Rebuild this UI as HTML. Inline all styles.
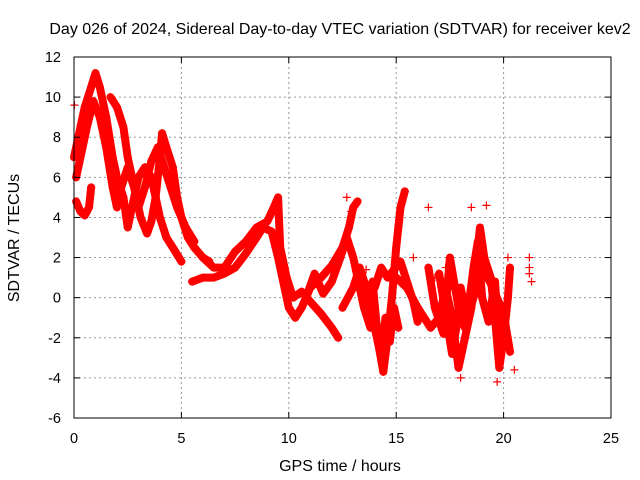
<!DOCTYPE html>
<html><head><meta charset="utf-8"><style>
body{margin:0;background:#fff}
svg{display:block;font-family:"Liberation Sans",sans-serif}
</style></head><body>
<svg id="chart" width="640" height="480">
<rect width="640" height="480" fill="#fff"/>
<text x="340" y="34" text-anchor="middle" font-size="16">Day 026 of 2024, Sidereal Day-to-day VTEC variation (SDTVAR) for receiver kev2</text>
<text x="340" y="471" text-anchor="middle" font-size="16">GPS time / hours</text>
<text transform="translate(19,238) rotate(-90)" text-anchor="middle" font-size="16">SDTVAR / TECUs</text>
<g id="grid"></g><g id="series"></g>
<rect x="74" y="57" width="537" height="361" fill="none" stroke="#000" stroke-width="1"/>
<g id="ticks"></g>
</svg>
<script>
const xTicks=[0,5,10,15,20,25];
const yTicks=[-6,-4,-2,0,2,4,6,8,10,12];
const trackA=[[0,7],[0.2,8],[0.5,9.5],[0.8,10.5],[1.0,11.2],[1.2,10.5],[1.5,9],[1.8,7],[2.0,6],[2.3,5],[2.5,3.5],[2.7,4.5],[3.0,6],[3.3,6.5],[3.6,6],[3.8,5],[4.0,4],[4.3,3],[4.6,2.5],[5.0,1.8]];
const trackB=[[0.1,6],[0.3,7],[0.6,8.5],[0.9,9.8],[1.2,9],[1.5,7.5],[1.8,5.5],[2.0,4.5],[2.2,5.5],[2.5,6.5],[2.8,5.5],[3.0,4.5],[3.3,5.5],[3.6,6.8],[3.9,7.5],[4.2,6.5],[4.5,5.5],[4.8,4.5],[5.2,3.5],[5.6,2.8]];
const trackC=[[1.7,10],[2.0,9.5],[2.3,8.5],[2.5,7],[2.8,5.5],[3.1,4],[3.4,3.2],[3.6,3.8],[3.8,5],[4.0,7],[4.1,8.2],[4.3,7.5],[4.6,6.5],[4.8,5],[5.0,4],[5.3,3],[5.6,2.5],[6.0,2],[6.3,1.8]];
const trackD=[[0.1,4.8],[0.3,4.3],[0.5,4.1],[0.7,4.5],[0.8,5.5]];
const trackE=[[5.5,0.8],[6,1],[6.5,1],[7,1.2],[7.5,1.5],[8,2.2],[8.5,3],[8.8,3.5],[9.2,3.3],[9.5,2],[9.8,0.5],[10,-0.5],[10.3,-1],[10.6,-0.5],[11,0.5],[11.5,1],[12,1.6],[12.5,2.5],[12.8,3.5],[13,4.5],[13.2,4.8]];
const trackF=[[6,2],[6.5,1.5],[7,1.5],[7.5,2.3],[8,2.8],[8.5,3.5],[9,3.8],[9.3,4.5],[9.5,5],[9.6,2.5],[9.9,1],[10.2,0],[10.6,0.3],[11,-0.2],[11.5,-0.8],[12,-1.5],[12.3,-2.0]];
const trackG=[[10.8,0],[11.2,1.2],[11.6,0.2],[12.0,0.8],[12.4,2],[12.7,3],[13.0,2],[13.3,0.5],[13.5,-0.5],[13.8,-1.5]];
const trackH=[[12.5,-0.5],[13,0.5],[13.3,1.5],[13.6,0.5],[13.9,-1],[14.2,-2.5],[14.4,-3.7],[14.6,-2],[14.8,0],[15.0,2.5],[15.2,4.5],[15.4,5.3]];
const trackI=[[15,1],[15.5,0.5],[16,-0.5],[16.3,-1],[16.6,-1.5],[17,-1],[17.3,0.5],[17.6,-1],[17.9,-3.5],[18.2,-2],[18.5,-0.5],[18.7,1.5],[18.9,3.5],[19.1,2],[19.4,1],[19.6,-1],[19.8,-3.5],[20,-2],[20.2,0],[20.3,1.5]];
const trackJ=[[16.5,1.5],[16.8,-0.5],[17.2,-1.8],[17.5,2],[17.9,-0.5],[18.2,-1.5],[18.6,0],[19,1.5],[19.5,0.5],[20,-0.8],[20.3,-2.7]];
const trackK=[[14.0,0.5],[14.3,1.5],[14.6,1.0],[15.2,1.8],[15.5,0.8],[15.8,-0.2],[16.0,-1.2]];
const trackL=[[13.6,-0.5],[13.9,0.8],[14.1,-1.5],[14.3,-2.8],[14.5,-1],[14.7,-2.2],[14.9,-0.5],[15.1,-1.5]];
const trackM=[[17.0,1.2],[17.3,-0.8],[17.6,-2.8],[17.8,-1.5],[18.0,0.5],[18.3,-1],[18.6,1.5],[18.8,2.8],[19.0,0],[19.3,-1.2],[19.6,0.8],[19.8,-2.5],[20.1,-1.5]];
const isolated=[[16.5,4.5],[17.3,1.5],[21.2,1.5],[21.2,1.2],[21.3,0.8],[21.2,2.0],[20.5,-3.6],[0.02,9.6],[18.5,4.5],[19.2,4.6],[20.2,2],[15.8,2],[13.6,1.4],[12.7,5],[12.9,4.3],[16.8,1.0],[18.0,-4.0],[19.7,-4.2]];
const tracks=[trackA,trackB,trackC,trackD,trackE,trackF,trackG,trackH,trackI,trackJ,trackK,trackL,trackM];

const X0=74,X1=611,Y0=418,Y1=57;
const xs=v=>X0+(v-0)/25*(X1-X0);
const ys=v=>Y0-(v+6)/18*(Y0-Y1);
const NS="http://www.w3.org/2000/svg";
const grid=document.getElementById('grid'),ticks=document.getElementById('ticks'),ser=document.getElementById('series');
function mk(tag,attrs,parent){const e=document.createElementNS(NS,tag);for(const k in attrs)e.setAttribute(k,attrs[k]);parent.appendChild(e);return e;}
xTicks.forEach(t=>{const x=xs(t);
 if(t>0&&t<25){const g=mk('line',{x1:x,x2:x,y1:Y1,y2:Y0,stroke:'#999','stroke-dasharray':'2,3'},grid);
 
 }
 mk('line',{x1:x,x2:x,y1:Y0,y2:Y0-6,stroke:'#000'},ticks);mk('line',{x1:x,x2:x,y1:Y1,y2:Y1+6,stroke:'#000'},ticks);
 const l=mk('text',{x:x,y:443,'text-anchor':'middle','font-size':14.5},ticks);l.textContent=t;
 
 });
yTicks.forEach(t=>{const y=ys(t);
 if(t>-6&&t<12){const g=mk('line',{x1:X0,x2:X1,y1:y,y2:y,stroke:'#999','stroke-dasharray':'2,3'},grid);
 
 }
 mk('line',{x1:X0,x2:X0+6,y1:y,y2:y,stroke:'#000'},ticks);mk('line',{x1:X1,x2:X1-6,y1:y,y2:y,stroke:'#000'},ticks);
 const l=mk('text',{x:61,y:y+5,'text-anchor':'end','font-size':14.5},ticks);l.textContent=t;
 
 });
function plus(p){const x=xs(p[0]),y=ys(p[1]);
 const m=mk('path',{d:`M${x-4},${y}h8M${x},${y-4}v8`,stroke:'red','stroke-width':1.2},ser);
 
 }
tracks.forEach(tr=>{
 const pl=mk('polyline',{points:tr.map(p=>xs(p[0])+','+ys(p[1])).join(' '),fill:'none',stroke:'red','stroke-width':8,'stroke-linejoin':'round','stroke-linecap':'round'},ser);
 
 
 tr.forEach(plus);});
isolated.forEach(plus);
</script>
</body></html>
